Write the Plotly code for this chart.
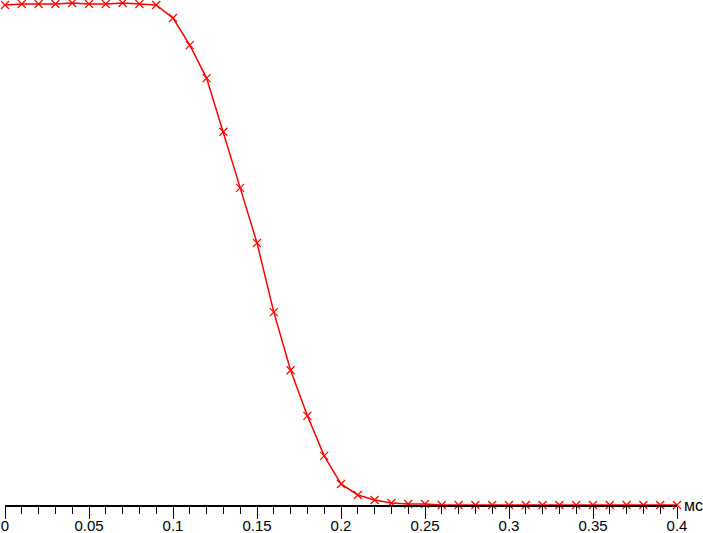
import plotly.graph_objects as go

# time in ms
x_ms = [0.00, 0.01, 0.02, 0.03, 0.04, 0.05, 0.06, 0.07, 0.08, 0.09,
        0.10, 0.11, 0.12, 0.13, 0.14, 0.15, 0.16, 0.17, 0.18, 0.19,
        0.20, 0.21, 0.22, 0.23, 0.24, 0.25, 0.26, 0.27, 0.28, 0.29,
        0.30, 0.31, 0.32, 0.33, 0.34, 0.35, 0.36, 0.37, 0.38, 0.39, 0.40]
# relative level (0..100)
level = [99.8, 100.0, 100.0, 100.0, 100.2, 100.0, 100.0, 100.2, 100.0, 99.8,
         97.2, 91.8, 85.2, 74.5, 63.3, 52.3, 38.5, 26.9, 17.8, 9.8,
         4.2, 2.0, 1.0, 0.4, 0.2, 0.2, 0.0, 0.0, 0.0, 0.0,
         0.0, 0.0, 0.0, 0.0, 0.0, 0.0, 0.0, 0.0, 0.0, 0.0, 0.0]
tick_vals = [0, 0.05, 0.1, 0.15, 0.2, 0.25, 0.3, 0.35, 0.4]
tick_text = ["0", "0.05", "0.1", "0.15", "0.2", "0.25", "0.3", "0.35", "0.4"]
unit_label = "мс"

fig = go.Figure()
fig.add_trace(go.Scatter(
    x=x_ms, y=level, mode="lines+markers",
    line=dict(color="#ff0000", width=1.5),
    marker=dict(symbol="x-thin-open", size=8, color="#ff0000",
                line=dict(color="#ff0000", width=1.2)),
    cliponaxis=False, showlegend=False,
))

fig.update_layout(
    width=703, height=533,
    margin=dict(l=5, r=26, t=0, b=28, autoexpand=False),
    paper_bgcolor="white", plot_bgcolor="white",
    font=dict(family="Liberation Sans, Arial, sans-serif", size=15, color="#000000"),
    xaxis=dict(
        range=[0, 0.4], showgrid=False, zeroline=False, automargin=False,
        showline=True, linecolor="#000000", linewidth=1.5,
        ticks="outside", ticklen=12, tickwidth=1, tickcolor="#000000",
        tickvals=tick_vals, ticktext=tick_text, ticklabelstandoff=-6,
        minor=dict(dtick=0.01, tick0=0, ticks="outside", ticklen=7,
                   tickwidth=1, tickcolor="#000000", showgrid=False),
    ),
    yaxis=dict(range=[0, 100.8], visible=False, showgrid=False,
               zeroline=False, automargin=False),
    annotations=[dict(
        x=1, xref="paper", y=0, yref="paper", text=unit_label,
        xanchor="left", yanchor="middle", xshift=5, showarrow=False,
        font=dict(size=16, color="#000000"),
    )],
)

fig.write_html(
    "out.html",
    config={"responsive": False, "displayModeBar": False},
    post_script="document.body.style.margin='0';document.body.style.padding='0';",
)
